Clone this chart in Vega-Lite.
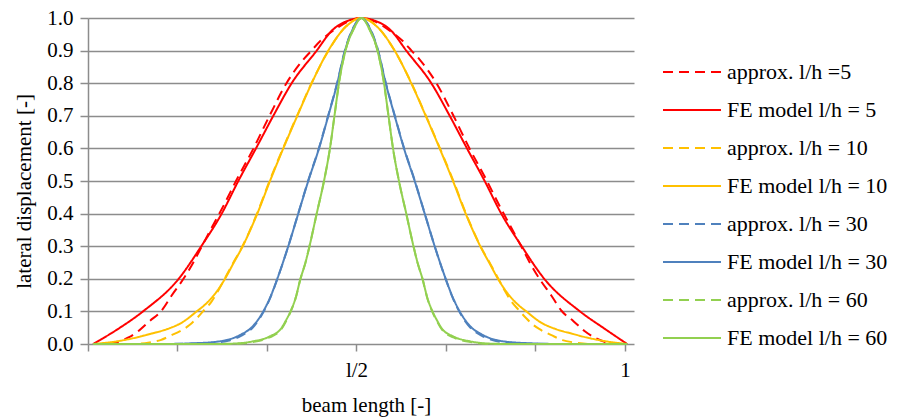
{
  "$schema": "https://vega.github.io/schema/vega-lite/v6.json",
  "width": 546,
  "height": 326,
  "autosize": {"type": "none"},
  "padding": {"left": 88, "top": 18, "right": 263, "bottom": 75},
  "background": "white",
  "config": {
    "view": {"stroke": null},
    "font": "Times New Roman, Liberation Serif, serif",
    "axis": {"labelFont": "Times New Roman, Liberation Serif, serif", "titleFont": "Times New Roman, Liberation Serif, serif", "labelColor": "black", "titleColor": "black", "titleFontWeight": "normal"},
    "legend": {"labelFont": "Times New Roman, Liberation Serif, serif", "labelLimit": 400}
  },
  "data": {"values": [
    {"series":"approx. l/h =5","x":0.0093,"y":0},
    {"series":"approx. l/h =5","x":0.0289,"y":0},
    {"series":"approx. l/h =5","x":0.0568,"y":0.007},
    {"series":"approx. l/h =5","x":0.0754,"y":0.02},
    {"series":"approx. l/h =5","x":0.0940,"y":0.04},
    {"series":"approx. l/h =5","x":0.1145,"y":0.07},
    {"series":"approx. l/h =5","x":0.1369,"y":0.102},
    {"series":"approx. l/h =5","x":0.1555,"y":0.148},
    {"series":"approx. l/h =5","x":0.1778,"y":0.2},
    {"series":"approx. l/h =5","x":0.1927,"y":0.24},
    {"series":"approx. l/h =5","x":0.2114,"y":0.298},
    {"series":"approx. l/h =5","x":0.2318,"y":0.361},
    {"series":"approx. l/h =5","x":0.2542,"y":0.43},
    {"series":"approx. l/h =5","x":0.2756,"y":0.5},
    {"series":"approx. l/h =5","x":0.3082,"y":0.6},
    {"series":"approx. l/h =5","x":0.3380,"y":0.7},
    {"series":"approx. l/h =5","x":0.3696,"y":0.8},
    {"series":"approx. l/h =5","x":0.4013,"y":0.873},
    {"series":"approx. l/h =5","x":0.4162,"y":0.9},
    {"series":"approx. l/h =5","x":0.4330,"y":0.93},
    {"series":"approx. l/h =5","x":0.4609,"y":0.966},
    {"series":"approx. l/h =5","x":0.4851,"y":0.99},
    {"series":"approx. l/h =5","x":0.5093,"y":1.0},
    {"series":"approx. l/h =5","x":0.5335,"y":0.99},
    {"series":"approx. l/h =5","x":0.5577,"y":0.966},
    {"series":"approx. l/h =5","x":0.5857,"y":0.93},
    {"series":"approx. l/h =5","x":0.6024,"y":0.9},
    {"series":"approx. l/h =5","x":0.6173,"y":0.873},
    {"series":"approx. l/h =5","x":0.6490,"y":0.8},
    {"series":"approx. l/h =5","x":0.6806,"y":0.7},
    {"series":"approx. l/h =5","x":0.7104,"y":0.6},
    {"series":"approx. l/h =5","x":0.7430,"y":0.5},
    {"series":"approx. l/h =5","x":0.7644,"y":0.43},
    {"series":"approx. l/h =5","x":0.7868,"y":0.361},
    {"series":"approx. l/h =5","x":0.8073,"y":0.298},
    {"series":"approx. l/h =5","x":0.8259,"y":0.24},
    {"series":"approx. l/h =5","x":0.8408,"y":0.2},
    {"series":"approx. l/h =5","x":0.8631,"y":0.148},
    {"series":"approx. l/h =5","x":0.8817,"y":0.102},
    {"series":"approx. l/h =5","x":0.9041,"y":0.07},
    {"series":"approx. l/h =5","x":0.9246,"y":0.04},
    {"series":"approx. l/h =5","x":0.9432,"y":0.02},
    {"series":"approx. l/h =5","x":0.9618,"y":0.007},
    {"series":"approx. l/h =5","x":0.9898,"y":0},
    {"series":"approx. l/h =5","x":1.0040,"y":0},

    {"series":"FE model l/h = 5","x":0.0093,"y":0},
    {"series":"FE model l/h = 5","x":0.0549,"y":0.045},
    {"series":"FE model l/h = 5","x":0.1024,"y":0.1},
    {"series":"FE model l/h = 5","x":0.1689,"y":0.2},
    {"series":"FE model l/h = 5","x":0.2110,"y":0.3},
    {"series":"FE model l/h = 5","x":0.2490,"y":0.4},
    {"series":"FE model l/h = 5","x":0.2799,"y":0.5},
    {"series":"FE model l/h = 5","x":0.3128,"y":0.6},
    {"series":"FE model l/h = 5","x":0.3451,"y":0.7},
    {"series":"FE model l/h = 5","x":0.3793,"y":0.8},
    {"series":"FE model l/h = 5","x":0.4259,"y":0.9},
    {"series":"FE model l/h = 5","x":0.4534,"y":0.96},
    {"series":"FE model l/h = 5","x":0.4907,"y":0.995},
    {"series":"FE model l/h = 5","x":0.5093,"y":1.0},
    {"series":"FE model l/h = 5","x":0.5279,"y":0.995},
    {"series":"FE model l/h = 5","x":0.5652,"y":0.96},
    {"series":"FE model l/h = 5","x":0.5927,"y":0.9},
    {"series":"FE model l/h = 5","x":0.6393,"y":0.8},
    {"series":"FE model l/h = 5","x":0.6736,"y":0.7},
    {"series":"FE model l/h = 5","x":0.7058,"y":0.6},
    {"series":"FE model l/h = 5","x":0.7387,"y":0.5},
    {"series":"FE model l/h = 5","x":0.7696,"y":0.4},
    {"series":"FE model l/h = 5","x":0.8076,"y":0.3},
    {"series":"FE model l/h = 5","x":0.8497,"y":0.2},
    {"series":"FE model l/h = 5","x":0.9162,"y":0.1},
    {"series":"FE model l/h = 5","x":0.9637,"y":0.045},
    {"series":"FE model l/h = 5","x":1.0040,"y":0},

    {"series":"approx. l/h = 10","x":0.0093,"y":0},
    {"series":"approx. l/h = 10","x":0.0810,"y":0},
    {"series":"approx. l/h = 10","x":0.1145,"y":0.005},
    {"series":"approx. l/h = 10","x":0.1350,"y":0.012},
    {"series":"approx. l/h = 10","x":0.1555,"y":0.027},
    {"series":"approx. l/h = 10","x":0.1741,"y":0.042},
    {"series":"approx. l/h = 10","x":0.1890,"y":0.058},
    {"series":"approx. l/h = 10","x":0.2020,"y":0.078},
    {"series":"approx. l/h = 10","x":0.2169,"y":0.105},
    {"series":"approx. l/h = 10","x":0.2300,"y":0.13},
    {"series":"approx. l/h = 10","x":0.2430,"y":0.165},
    {"series":"approx. l/h = 10","x":0.2560,"y":0.205},
    {"series":"approx. l/h = 10","x":0.2691,"y":0.245},
    {"series":"approx. l/h = 10","x":0.2877,"y":0.3},
    {"series":"approx. l/h = 10","x":0.3147,"y":0.4},
    {"series":"approx. l/h = 10","x":0.3380,"y":0.5},
    {"series":"approx. l/h = 10","x":0.3631,"y":0.6},
    {"series":"approx. l/h = 10","x":0.3892,"y":0.7},
    {"series":"approx. l/h = 10","x":0.4162,"y":0.8},
    {"series":"approx. l/h = 10","x":0.4479,"y":0.9},
    {"series":"approx. l/h = 10","x":0.4814,"y":0.976},
    {"series":"approx. l/h = 10","x":0.5093,"y":1.0},
    {"series":"approx. l/h = 10","x":0.5372,"y":0.976},
    {"series":"approx. l/h = 10","x":0.5708,"y":0.9},
    {"series":"approx. l/h = 10","x":0.6024,"y":0.8},
    {"series":"approx. l/h = 10","x":0.6294,"y":0.7},
    {"series":"approx. l/h = 10","x":0.6555,"y":0.6},
    {"series":"approx. l/h = 10","x":0.6806,"y":0.5},
    {"series":"approx. l/h = 10","x":0.7039,"y":0.4},
    {"series":"approx. l/h = 10","x":0.7309,"y":0.3},
    {"series":"approx. l/h = 10","x":0.7495,"y":0.245},
    {"series":"approx. l/h = 10","x":0.7626,"y":0.205},
    {"series":"approx. l/h = 10","x":0.7756,"y":0.165},
    {"series":"approx. l/h = 10","x":0.7886,"y":0.13},
    {"series":"approx. l/h = 10","x":0.8017,"y":0.105},
    {"series":"approx. l/h = 10","x":0.8166,"y":0.078},
    {"series":"approx. l/h = 10","x":0.8296,"y":0.058},
    {"series":"approx. l/h = 10","x":0.8445,"y":0.042},
    {"series":"approx. l/h = 10","x":0.8631,"y":0.027},
    {"series":"approx. l/h = 10","x":0.8836,"y":0.012},
    {"series":"approx. l/h = 10","x":0.9041,"y":0.005},
    {"series":"approx. l/h = 10","x":0.9376,"y":0},
    {"series":"approx. l/h = 10","x":1.0040,"y":0},

    {"series":"FE model l/h = 10","x":0.0093,"y":0},
    {"series":"FE model l/h = 10","x":0.0531,"y":0.008},
    {"series":"FE model l/h = 10","x":0.0847,"y":0.018},
    {"series":"FE model l/h = 10","x":0.1182,"y":0.032},
    {"series":"FE model l/h = 10","x":0.1462,"y":0.045},
    {"series":"FE model l/h = 10","x":0.1741,"y":0.065},
    {"series":"FE model l/h = 10","x":0.2024,"y":0.1},
    {"series":"FE model l/h = 10","x":0.2207,"y":0.125},
    {"series":"FE model l/h = 10","x":0.2393,"y":0.16},
    {"series":"FE model l/h = 10","x":0.2551,"y":0.2},
    {"series":"FE model l/h = 10","x":0.2700,"y":0.245},
    {"series":"FE model l/h = 10","x":0.2881,"y":0.3},
    {"series":"FE model l/h = 10","x":0.3153,"y":0.4},
    {"series":"FE model l/h = 10","x":0.3389,"y":0.5},
    {"series":"FE model l/h = 10","x":0.3637,"y":0.6},
    {"series":"FE model l/h = 10","x":0.3898,"y":0.7},
    {"series":"FE model l/h = 10","x":0.4166,"y":0.8},
    {"series":"FE model l/h = 10","x":0.4475,"y":0.9},
    {"series":"FE model l/h = 10","x":0.4814,"y":0.975},
    {"series":"FE model l/h = 10","x":0.5093,"y":1.0},
    {"series":"FE model l/h = 10","x":0.5372,"y":0.975},
    {"series":"FE model l/h = 10","x":0.5711,"y":0.9},
    {"series":"FE model l/h = 10","x":0.6020,"y":0.8},
    {"series":"FE model l/h = 10","x":0.6289,"y":0.7},
    {"series":"FE model l/h = 10","x":0.6549,"y":0.6},
    {"series":"FE model l/h = 10","x":0.6797,"y":0.5},
    {"series":"FE model l/h = 10","x":0.7033,"y":0.4},
    {"series":"FE model l/h = 10","x":0.7305,"y":0.3},
    {"series":"FE model l/h = 10","x":0.7486,"y":0.245},
    {"series":"FE model l/h = 10","x":0.7635,"y":0.2},
    {"series":"FE model l/h = 10","x":0.7793,"y":0.16},
    {"series":"FE model l/h = 10","x":0.7979,"y":0.125},
    {"series":"FE model l/h = 10","x":0.8162,"y":0.1},
    {"series":"FE model l/h = 10","x":0.8445,"y":0.065},
    {"series":"FE model l/h = 10","x":0.8724,"y":0.045},
    {"series":"FE model l/h = 10","x":0.9004,"y":0.032},
    {"series":"FE model l/h = 10","x":0.9339,"y":0.018},
    {"series":"FE model l/h = 10","x":0.9655,"y":0.008},
    {"series":"FE model l/h = 10","x":1.0040,"y":0},

    {"series":"approx. l/h = 30","x":0.0093,"y":0},
    {"series":"approx. l/h = 30","x":0.1369,"y":0},
    {"series":"approx. l/h = 30","x":0.1927,"y":0.001},
    {"series":"approx. l/h = 30","x":0.2393,"y":0.005},
    {"series":"approx. l/h = 30","x":0.2607,"y":0.01},
    {"series":"approx. l/h = 30","x":0.2849,"y":0.025},
    {"series":"approx. l/h = 30","x":0.3073,"y":0.051},
    {"series":"approx. l/h = 30","x":0.3264,"y":0.097},
    {"series":"approx. l/h = 30","x":0.3398,"y":0.143},
    {"series":"approx. l/h = 30","x":0.3525,"y":0.199},
    {"series":"approx. l/h = 30","x":0.3730,"y":0.3},
    {"series":"approx. l/h = 30","x":0.3916,"y":0.401},
    {"series":"approx. l/h = 30","x":0.4102,"y":0.502},
    {"series":"approx. l/h = 30","x":0.4302,"y":0.602},
    {"series":"approx. l/h = 30","x":0.4475,"y":0.702},
    {"series":"approx. l/h = 30","x":0.4642,"y":0.802},
    {"series":"approx. l/h = 30","x":0.4786,"y":0.902},
    {"series":"approx. l/h = 30","x":0.4944,"y":0.972},
    {"series":"approx. l/h = 30","x":0.5093,"y":1.0},
    {"series":"approx. l/h = 30","x":0.5242,"y":0.972},
    {"series":"approx. l/h = 30","x":0.5400,"y":0.902},
    {"series":"approx. l/h = 30","x":0.5544,"y":0.802},
    {"series":"approx. l/h = 30","x":0.5711,"y":0.702},
    {"series":"approx. l/h = 30","x":0.5884,"y":0.602},
    {"series":"approx. l/h = 30","x":0.6084,"y":0.502},
    {"series":"approx. l/h = 30","x":0.6270,"y":0.401},
    {"series":"approx. l/h = 30","x":0.6456,"y":0.3},
    {"series":"approx. l/h = 30","x":0.6661,"y":0.199},
    {"series":"approx. l/h = 30","x":0.6788,"y":0.143},
    {"series":"approx. l/h = 30","x":0.6922,"y":0.097},
    {"series":"approx. l/h = 30","x":0.7114,"y":0.051},
    {"series":"approx. l/h = 30","x":0.7337,"y":0.025},
    {"series":"approx. l/h = 30","x":0.7579,"y":0.01},
    {"series":"approx. l/h = 30","x":0.7793,"y":0.005},
    {"series":"approx. l/h = 30","x":0.8259,"y":0.001},
    {"series":"approx. l/h = 30","x":0.8817,"y":0},
    {"series":"approx. l/h = 30","x":1.0040,"y":0},

    {"series":"FE model l/h = 30","x":0.0093,"y":0},
    {"series":"FE model l/h = 30","x":0.1369,"y":0},
    {"series":"FE model l/h = 30","x":0.1927,"y":0.002},
    {"series":"FE model l/h = 30","x":0.2393,"y":0.007},
    {"series":"FE model l/h = 30","x":0.2607,"y":0.013},
    {"series":"FE model l/h = 30","x":0.2849,"y":0.029},
    {"series":"FE model l/h = 30","x":0.3073,"y":0.055},
    {"series":"FE model l/h = 30","x":0.3264,"y":0.1},
    {"series":"FE model l/h = 30","x":0.3398,"y":0.145},
    {"series":"FE model l/h = 30","x":0.3525,"y":0.2},
    {"series":"FE model l/h = 30","x":0.3730,"y":0.3},
    {"series":"FE model l/h = 30","x":0.3916,"y":0.4},
    {"series":"FE model l/h = 30","x":0.4102,"y":0.5},
    {"series":"FE model l/h = 30","x":0.4302,"y":0.6},
    {"series":"FE model l/h = 30","x":0.4475,"y":0.7},
    {"series":"FE model l/h = 30","x":0.4642,"y":0.8},
    {"series":"FE model l/h = 30","x":0.4786,"y":0.9},
    {"series":"FE model l/h = 30","x":0.4944,"y":0.97},
    {"series":"FE model l/h = 30","x":0.5093,"y":1.0},
    {"series":"FE model l/h = 30","x":0.5242,"y":0.97},
    {"series":"FE model l/h = 30","x":0.5400,"y":0.9},
    {"series":"FE model l/h = 30","x":0.5544,"y":0.8},
    {"series":"FE model l/h = 30","x":0.5711,"y":0.7},
    {"series":"FE model l/h = 30","x":0.5884,"y":0.6},
    {"series":"FE model l/h = 30","x":0.6084,"y":0.5},
    {"series":"FE model l/h = 30","x":0.6270,"y":0.4},
    {"series":"FE model l/h = 30","x":0.6456,"y":0.3},
    {"series":"FE model l/h = 30","x":0.6661,"y":0.2},
    {"series":"FE model l/h = 30","x":0.6788,"y":0.145},
    {"series":"FE model l/h = 30","x":0.6922,"y":0.1},
    {"series":"FE model l/h = 30","x":0.7114,"y":0.055},
    {"series":"FE model l/h = 30","x":0.7337,"y":0.029},
    {"series":"FE model l/h = 30","x":0.7579,"y":0.013},
    {"series":"FE model l/h = 30","x":0.7793,"y":0.007},
    {"series":"FE model l/h = 30","x":0.8259,"y":0.002},
    {"series":"FE model l/h = 30","x":0.8817,"y":0},
    {"series":"FE model l/h = 30","x":1.0040,"y":0},

    {"series":"approx. l/h = 60","x":0.0093,"y":0},
    {"series":"approx. l/h = 60","x":0.2672,"y":0},
    {"series":"approx. l/h = 60","x":0.3063,"y":0.006},
    {"series":"approx. l/h = 60","x":0.3380,"y":0.02},
    {"series":"approx. l/h = 60","x":0.3603,"y":0.046},
    {"series":"approx. l/h = 60","x":0.3678,"y":0.067},
    {"series":"approx. l/h = 60","x":0.3771,"y":0.098},
    {"series":"approx. l/h = 60","x":0.3864,"y":0.139},
    {"series":"approx. l/h = 60","x":0.3957,"y":0.2},
    {"series":"approx. l/h = 60","x":0.4050,"y":0.25},
    {"series":"approx. l/h = 60","x":0.4125,"y":0.3},
    {"series":"approx. l/h = 60","x":0.4259,"y":0.4},
    {"series":"approx. l/h = 60","x":0.4395,"y":0.5},
    {"series":"approx. l/h = 60","x":0.4506,"y":0.6},
    {"series":"approx. l/h = 60","x":0.4590,"y":0.7},
    {"series":"approx. l/h = 60","x":0.4683,"y":0.81},
    {"series":"approx. l/h = 60","x":0.4795,"y":0.9},
    {"series":"approx. l/h = 60","x":0.4944,"y":0.965},
    {"series":"approx. l/h = 60","x":0.5093,"y":1.0},
    {"series":"approx. l/h = 60","x":0.5242,"y":0.965},
    {"series":"approx. l/h = 60","x":0.5391,"y":0.9},
    {"series":"approx. l/h = 60","x":0.5503,"y":0.81},
    {"series":"approx. l/h = 60","x":0.5596,"y":0.7},
    {"series":"approx. l/h = 60","x":0.5680,"y":0.6},
    {"series":"approx. l/h = 60","x":0.5791,"y":0.5},
    {"series":"approx. l/h = 60","x":0.5927,"y":0.4},
    {"series":"approx. l/h = 60","x":0.6061,"y":0.3},
    {"series":"approx. l/h = 60","x":0.6136,"y":0.25},
    {"series":"approx. l/h = 60","x":0.6229,"y":0.2},
    {"series":"approx. l/h = 60","x":0.6322,"y":0.139},
    {"series":"approx. l/h = 60","x":0.6415,"y":0.098},
    {"series":"approx. l/h = 60","x":0.6508,"y":0.067},
    {"series":"approx. l/h = 60","x":0.6583,"y":0.046},
    {"series":"approx. l/h = 60","x":0.6806,"y":0.02},
    {"series":"approx. l/h = 60","x":0.7123,"y":0.006},
    {"series":"approx. l/h = 60","x":0.7514,"y":0},
    {"series":"approx. l/h = 60","x":1.0040,"y":0},

    {"series":"FE model l/h = 60","x":0.0093,"y":0},
    {"series":"FE model l/h = 60","x":0.2300,"y":0},
    {"series":"FE model l/h = 60","x":0.2672,"y":0.001},
    {"series":"FE model l/h = 60","x":0.3063,"y":0.008},
    {"series":"FE model l/h = 60","x":0.3380,"y":0.023},
    {"series":"FE model l/h = 60","x":0.3603,"y":0.049},
    {"series":"FE model l/h = 60","x":0.3678,"y":0.07},
    {"series":"FE model l/h = 60","x":0.3771,"y":0.1},
    {"series":"FE model l/h = 60","x":0.3864,"y":0.14},
    {"series":"FE model l/h = 60","x":0.3957,"y":0.2},
    {"series":"FE model l/h = 60","x":0.4050,"y":0.25},
    {"series":"FE model l/h = 60","x":0.4125,"y":0.3},
    {"series":"FE model l/h = 60","x":0.4259,"y":0.4},
    {"series":"FE model l/h = 60","x":0.4395,"y":0.5},
    {"series":"FE model l/h = 60","x":0.4506,"y":0.6},
    {"series":"FE model l/h = 60","x":0.4590,"y":0.7},
    {"series":"FE model l/h = 60","x":0.4683,"y":0.81},
    {"series":"FE model l/h = 60","x":0.4795,"y":0.9},
    {"series":"FE model l/h = 60","x":0.4944,"y":0.965},
    {"series":"FE model l/h = 60","x":0.5093,"y":1.0},
    {"series":"FE model l/h = 60","x":0.5242,"y":0.965},
    {"series":"FE model l/h = 60","x":0.5391,"y":0.9},
    {"series":"FE model l/h = 60","x":0.5503,"y":0.81},
    {"series":"FE model l/h = 60","x":0.5596,"y":0.7},
    {"series":"FE model l/h = 60","x":0.5680,"y":0.6},
    {"series":"FE model l/h = 60","x":0.5791,"y":0.5},
    {"series":"FE model l/h = 60","x":0.5927,"y":0.4},
    {"series":"FE model l/h = 60","x":0.6061,"y":0.3},
    {"series":"FE model l/h = 60","x":0.6136,"y":0.25},
    {"series":"FE model l/h = 60","x":0.6229,"y":0.2},
    {"series":"FE model l/h = 60","x":0.6322,"y":0.14},
    {"series":"FE model l/h = 60","x":0.6415,"y":0.1},
    {"series":"FE model l/h = 60","x":0.6508,"y":0.07},
    {"series":"FE model l/h = 60","x":0.6583,"y":0.049},
    {"series":"FE model l/h = 60","x":0.6806,"y":0.023},
    {"series":"FE model l/h = 60","x":0.7123,"y":0.008},
    {"series":"FE model l/h = 60","x":0.7514,"y":0.001},
    {"series":"FE model l/h = 60","x":0.7886,"y":0},
    {"series":"FE model l/h = 60","x":1.0040,"y":0}
  ]},
  "mark": {"type": "line", "strokeWidth": 2, "interpolate": "monotone"},
  "encoding": {
    "x": {
      "field": "x", "type": "quantitative",
      "scale": {"domain": [0, 1.0168], "nice": false, "zero": false},
      "axis": {
        "title": "beam length [-]",
        "titleFont": "Times New Roman, Liberation Serif, serif",
        "titleFontSize": 21,
        "titleX": 278,
        "titleY": 61,
        "titleBaseline": "middle",
        "values": [0, 0.16667, 0.33333, 0.5, 0.66667, 0.83333, 1],
        "labelExpr": "abs(datum.value - 0.5) < 0.001 ? 'l/2' : (abs(datum.value - 1) < 0.001 ? '1' : '')",
        "labelFont": "Times New Roman, Liberation Serif, serif",
        "labelFontSize": 21,
        "labelPadding": 8,
        "tickSize": 7,
        "tickWidth": 1.5,
        "tickColor": "#8c8c8c",
        "domain": false,
        "grid": false
      }
    },
    "y": {
      "field": "y", "type": "quantitative",
      "scale": {"domain": [0, 1], "nice": false},
      "axis": {
        "title": "lateral displacement [-]",
        "titleFont": "Times New Roman, Liberation Serif, serif",
        "titleFontSize": 21,
        "titleX": -64,
        "titleY": 173,
        "titleAngle": -90,
        "titleBaseline": "middle",
        "values": [0, 0.1, 0.2, 0.3, 0.4, 0.5, 0.6, 0.7, 0.8, 0.9, 1.0],
        "format": ".1f",
        "labelFont": "Times New Roman, Liberation Serif, serif",
        "labelFontSize": 21,
        "labelPadding": 7,
        "tickSize": 8,
        "tickWidth": 1.5,
        "tickColor": "#8c8c8c",
        "domainColor": "#8c8c8c",
        "domainWidth": 1.5,
        "grid": true,
        "gridColor": "#8c8c8c",
        "gridWidth": 1.5
      }
    },
    "color": {
      "field": "series", "type": "nominal",
      "sort": ["approx. l/h =5", "FE model l/h = 5", "approx. l/h = 10", "FE model l/h = 10", "approx. l/h = 30", "FE model l/h = 30", "approx. l/h = 60", "FE model l/h = 60"],
      "scale": {
        "domain": ["approx. l/h =5", "FE model l/h = 5", "approx. l/h = 10", "FE model l/h = 10", "approx. l/h = 30", "FE model l/h = 30", "approx. l/h = 60", "FE model l/h = 60"],
        "range": ["#ff0000", "#ff0000", "#ffc000", "#ffc000", "#4f81bd", "#4f81bd", "#92d050", "#92d050"]
      },
      "legend": {
        "title": null,
        "orient": "none",
        "legendX": 574,
        "legendY": 35,
        "symbolType": "stroke",
        "symbolSize": 3364,
        "symbolStrokeWidth": 2,
        "labelFont": "Times New Roman, Liberation Serif, serif",
        "labelFontSize": 22,
        "labelLimit": 400,
        "labelColor": "black",
        "labelOffset": 5,
        "clipHeight": 37.8,
        "rowPadding": 0,
        "padding": 0
      }
    },
    "strokeDash": {
      "field": "series", "type": "nominal",
      "sort": ["approx. l/h =5", "FE model l/h = 5", "approx. l/h = 10", "FE model l/h = 10", "approx. l/h = 30", "FE model l/h = 30", "approx. l/h = 60", "FE model l/h = 60"],
      "scale": {
        "domain": ["approx. l/h =5", "FE model l/h = 5", "approx. l/h = 10", "FE model l/h = 10", "approx. l/h = 30", "FE model l/h = 30", "approx. l/h = 60", "FE model l/h = 60"],
        "range": [[10, 6], [1, 0], [10, 6], [1, 0], [10, 6], [1, 0], [10, 6], [1, 0]]
      },
      "legend": {
        "title": null,
        "orient": "none",
        "legendX": 574,
        "legendY": 35,
        "symbolType": "stroke",
        "symbolSize": 3364,
        "symbolStrokeWidth": 2,
        "labelFont": "Times New Roman, Liberation Serif, serif",
        "labelFontSize": 22,
        "labelLimit": 400,
        "labelColor": "black",
        "labelOffset": 5,
        "clipHeight": 37.8,
        "rowPadding": 0,
        "padding": 0
      }
    },
    "order": {"field": "x", "type": "quantitative"}
  }
}
